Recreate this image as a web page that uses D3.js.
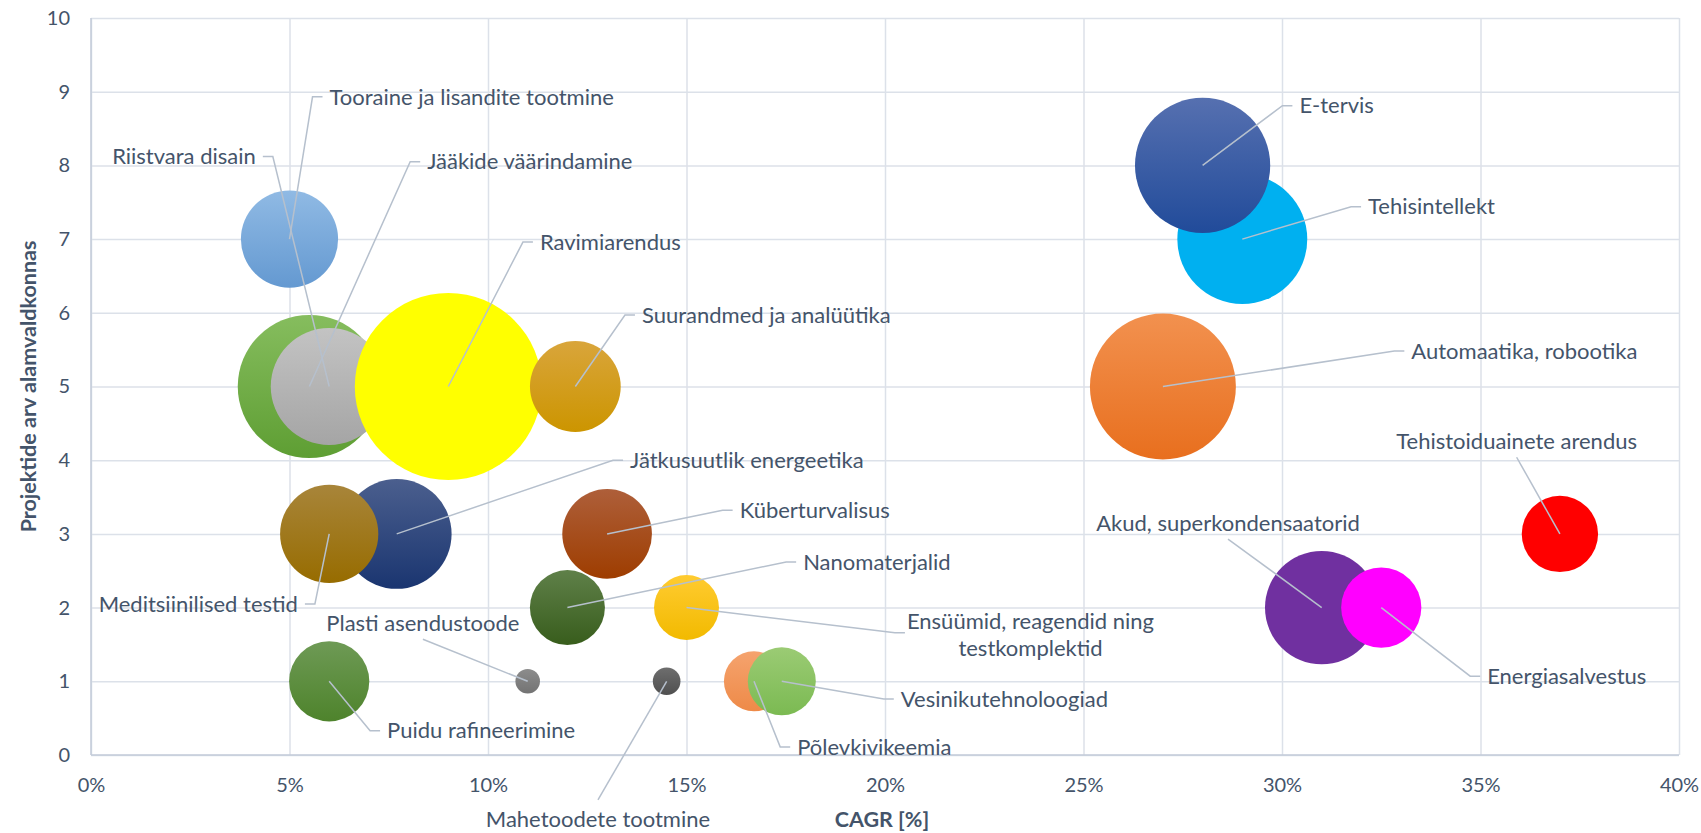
<!DOCTYPE html>
<html>
<head>
<meta charset="utf-8">
<script src="https://cdn.jsdelivr.net/npm/d3@7"></script>
<style>
  body { margin: 0; background: #fff; }
  svg text { font-family: Lato, "Noto Sans", sans-serif; fill: #44546A; }
</style>
</head>
<body>
<svg id="chart" width="1701" height="833"></svg>
<script>
// data
var names = ["Tooraine ja lisandite tootmine", "Jääkide väärindamine", "Riistvara disain", "Ravimiarendus",
  "Suurandmed ja analüütika", "Jätkusuutlik energeetika", "Meditsiinilised testid", "Küberturvalisus",
  "Nanomaterjalid", "Ensüümid, reagendid ning|testkomplektid", "Plasti asendustoode", "Mahetoodete tootmine",
  "Puidu rafineerimine", "Põlevkivikeemia", "Vesinikutehnoloogiad", "Tehisintellekt", "E-tervis",
  "Automaatika, robootika", "Akud, superkondensaatorid", "Energiasalvestus", "Tehistoiduainete arendus"];
var cagr     = [5, 5.5, 6, 9, 12.2, 7.7, 6, 13, 12, 15, 11, 14.5, 6, 16.7, 17.4, 29, 28, 27, 31, 32.5, 37];
var projects = [7, 5, 5, 5, 5, 3, 3, 3, 2, 2, 1, 1, 1, 1, 1, 7, 8, 5, 2, 2, 3];
var bubble   = [23.5, 51, 34, 87, 20.5, 30, 24, 20, 14, 10.5, 1.5, 1.9, 16, 9, 11.5, 42, 45.5, 53, 32, 16, 14.5];

var xTicks = [0, 5, 10, 15, 20, 25, 30, 35, 40];
var yTicks = [0, 1, 2, 3, 4, 5, 6, 7, 8, 9, 10];

// fill colours (top, bottom of the gradient)
var colors = [["#90BAE4", "#6499D1"], ["#86BD5E", "#5E9E33"], ["#C3C3C3", "#A5A5A5"], ["#FFFF00", "#FFFF00"],
  ["#D9A53B", "#CC9500"], ["#4B5F8E", "#1A3570"], ["#A8853A", "#976C00"], ["#AE5F3A", "#9E3D00"],
  ["#5F8049", "#385D1C"], ["#FFCB30", "#F2BA00"], ["#8C8C8C", "#737373"], ["#6E6E6E", "#4F4F4F"],
  ["#6E9A55", "#4E832C"], ["#F5A36E", "#EE8A48"], ["#9BCB74", "#7BBA52"], ["#00B0F0", "#00B0F0"],
  ["#5670B0", "#214B9A"], ["#F2914F", "#E86F1E"], ["#7030A0", "#7030A0"], ["#FF00FF", "#FF00FF"],
  ["#FF0000", "#FF0000"]];

// label elbow points in data units, and on which side the text sits
var labelAt = [[5.58, 8.93, "right"], [8.04, 8.05, "right"], [4.58, 8.12, "left"], [10.88, 6.96, "right"],
  [13.45, 5.97, "right"], [13.15, 4.0, "right"], [5.64, 2.05, "left"], [15.91, 3.32, "right"],
  [17.51, 2.62, "right"], [20.25, 1.66, "right"], [8.36, 1.57, "above"], [12.77, -0.61, "below"],
  [7.03, 0.33, "right"], [17.36, 0.11, "right"], [19.97, 0.76, "right"], [31.74, 7.44, "right"],
  [30.01, 8.81, "right"], [32.83, 5.48, "right"], [28.64, 2.93, "above"], [34.74, 1.07, "right"],
  [35.91, 4.04, "above"]];

var margin = {top: 18, right: 22, bottom: 78, left: 91},
    width = 1701 - margin.left - margin.right,
    height = 833 - margin.top - margin.bottom;

var x = d3.scaleLinear().domain([0, 40]).range([0, width]);
var y = d3.scaleLinear().domain([0, 10]).range([height, 0]);
var r = d3.scaleSqrt().domain([0, 87]).range([0, 93.5]);

var svg = d3.select("#chart");
var g = svg.append("g").attr("transform", "translate(" + margin.left + "," + margin.top + ")");

// grid + axes
var xAxis = d3.axisBottom(x).tickValues(xTicks).tickSize(-height).tickPadding(23)
  .tickFormat(function(d) { return d + "%"; });
var yAxis = d3.axisLeft(y).tickValues(yTicks).tickSize(-width).tickPadding(21);

g.append("g").attr("class", "x axis").attr("transform", "translate(0," + height + ")").call(xAxis);
g.append("g").attr("class", "y axis").call(yAxis);
g.selectAll(".axis .domain").remove();
g.selectAll(".axis .tick line").attr("stroke", "#DCE1E9").attr("stroke-width", 1.5);
g.selectAll(".axis text").attr("font-size", 20).attr("fill", "#44546A")
  .style("font-family", "Lato, 'Noto Sans', sans-serif");

g.append("line").attr("x1", 0).attr("x2", 0).attr("y1", 0).attr("y2", height)
  .attr("stroke", "#C3CBD8").attr("stroke-width", 1.5);
g.append("line").attr("x1", 0).attr("x2", width).attr("y1", height).attr("y2", height)
  .attr("stroke", "#C3CBD8").attr("stroke-width", 1.5);

// gradients
var defs = svg.append("defs");
colors.forEach(function(c, i) {
  var lg = defs.append("linearGradient").attr("id", "grad" + i)
    .attr("x1", 0).attr("y1", 0).attr("x2", 0).attr("y2", 1);
  lg.append("stop").attr("offset", "0%").attr("stop-color", c[0]);
  lg.append("stop").attr("offset", "100%").attr("stop-color", c[1]);
});

var idx = d3.range(names.length);

// bubbles
g.selectAll(".bubble")
  .data(idx)
  .enter().append("circle")
    .attr("class", "bubble")
    .attr("cx", function(i) { return x(cagr[i]); })
    .attr("cy", function(i) { return y(projects[i]); })
    .attr("r", function(i) { return r(bubble[i]); })
    .attr("fill", function(i) { return "url(#grad" + i + ")"; });

// leader lines
g.selectAll(".leader")
  .data(idx)
  .enter().append("path")
    .attr("class", "leader")
    .attr("fill", "none")
    .attr("stroke", "#B6C0CD")
    .attr("stroke-width", 1.5)
    .attr("d", function(i) {
      var cx = x(cagr[i]), cy = y(projects[i]);
      var ex = x(labelAt[i][0]), ey = y(labelAt[i][1]);
      var side = labelAt[i][2];
      var p = "M" + cx + "," + cy + "L" + ex + "," + ey;
      if (side == "right") p += "L" + (ex + 10) + "," + ey;
      if (side == "left") p += "L" + (ex - 10) + "," + ey;
      return p;
    });

// labels
idx.forEach(function(i) {
  var ex = x(labelAt[i][0]), ey = y(labelAt[i][1]);
  var side = labelAt[i][2];
  var lines = names[i].split("|");
  var t = g.append("text").attr("font-size", 22);
  if (side == "right") {
    if (lines.length > 1) {
      t.attr("text-anchor", "middle");
      t.append("tspan").attr("y", ey - 11).attr("dy", "0.35em").text(lines[0]);
      var w = t.node().getComputedTextLength();
      t.append("tspan").attr("y", ey + 16).attr("dy", "0.35em").text(lines[1]);
      t.selectAll("tspan").attr("x", ex + 12 + w / 2);
    } else {
      t.attr("x", ex + 17).attr("y", ey).attr("dy", "0.35em").text(lines[0]);
    }
  } else if (side == "left") {
    t.attr("x", ex - 17).attr("y", ey).attr("dy", "0.35em").attr("text-anchor", "end").text(lines[0]);
  } else if (side == "above") {
    t.attr("x", ex).attr("y", ey - 16).attr("dy", "0.35em").attr("text-anchor", "middle").text(lines[0]);
  } else {
    t.attr("x", ex).attr("y", ey + 19).attr("dy", "0.35em").attr("text-anchor", "middle").text(lines[0]);
  }
});

// axis titles
svg.append("text")
  .attr("x", margin.left + width / 2 - 3)
  .attr("y", 819).attr("dy", "0.35em")
  .attr("text-anchor", "middle")
  .attr("font-size", 21.5).attr("font-weight", "bold")
  .text("CAGR [%]");

svg.append("text")
  .attr("transform", "translate(28," + (margin.top + height / 2) + ") rotate(-90)")
  .attr("dy", "0.35em")
  .attr("text-anchor", "middle")
  .attr("font-size", 21.5).attr("font-weight", "bold")
  .text("Projektide arv alamvaldkonnas");
</script>
</body>
</html>
